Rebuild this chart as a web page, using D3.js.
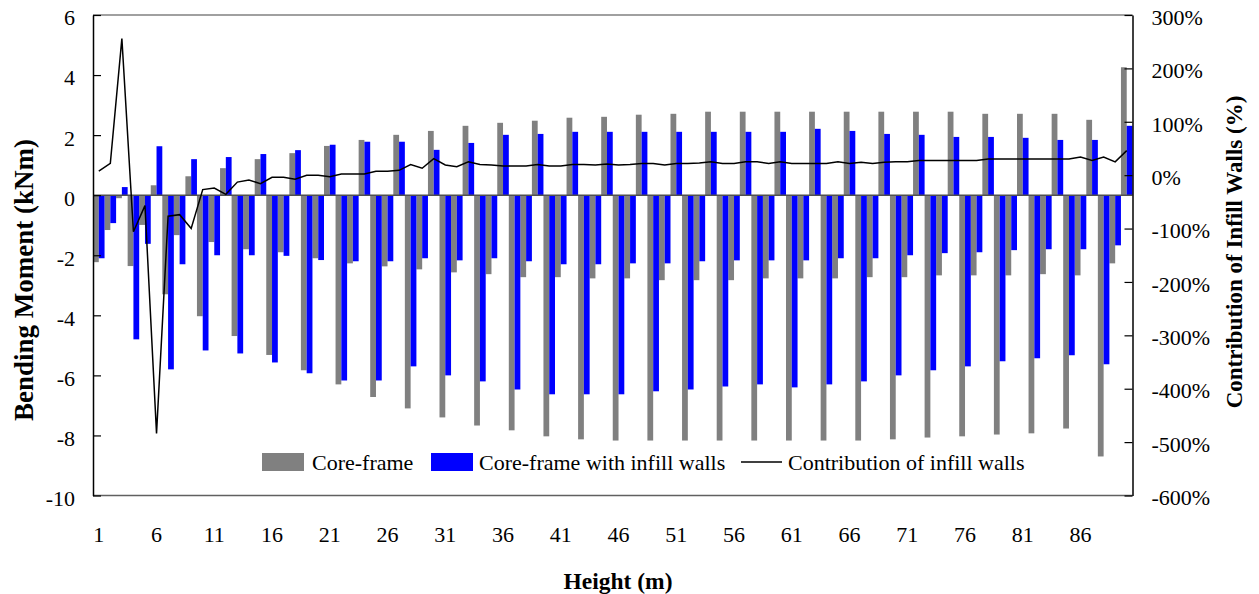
<!DOCTYPE html>
<html>
<head>
<meta charset="utf-8">
<script src="https://cdn.jsdelivr.net/npm/d3@7"></script>
<style>
  html, body { margin: 0; padding: 0; background: #fff; }
  svg text { font-family: "Liberation Serif", "Times New Roman", serif; fill: #000; }
</style>
</head>
<body>
<svg id="chart" width="1259" height="594"></svg>
<script>
// ---------- data ----------
const categories = d3.range(1, 91);
const xTickLabels = ["1","6","11","16","21","26","31","36","41","46","51","56","61","66","71","76","81","86"];
const leftTicks = [-10, -8, -6, -4, -2, 0, 2, 4, 6];
const rightTicks = [-6, -5, -4, -3, -2, -1, 0, 1, 2, 3];

const coreFrame = [
  -2.23, -1.16, -0.10, -2.36, -0.99, 0.33, -3.30, -1.33, 0.63, -4.03,
  -1.56, 0.90, -4.69, -1.80, 1.20, -5.32, -1.90, 1.40, -5.83, -2.10,
  1.64, -6.30, -2.27, 1.84, -6.72, -2.37, 2.01, -7.10, -2.47, 2.14,
  -7.40, -2.57, 2.31, -7.67, -2.63, 2.41, -7.83, -2.73, 2.48, -8.03,
  -2.73, 2.58, -8.13, -2.77, 2.61, -8.17, -2.77, 2.68, -8.17, -2.83,
  2.71, -8.17, -2.83, 2.78, -8.17, -2.83, 2.78, -8.17, -2.77, 2.78,
  -8.17, -2.77, 2.78, -8.17, -2.77, 2.78, -8.17, -2.73, 2.78, -8.13,
  -2.73, 2.78, -8.07, -2.67, 2.78, -8.03, -2.67, 2.71, -7.97, -2.67,
  2.71, -7.93, -2.63, 2.71, -7.77, -2.67, 2.51, -8.70, -2.27, 4.26
];
const coreFrameInfill = [
  -2.10, -0.93, 0.27, -4.80, -1.62, 1.63, -5.80, -2.30, 1.20, -5.17,
  -2.00, 1.27, -5.27, -2.00, 1.37, -5.57, -2.02, 1.50, -5.93, -2.16,
  1.68, -6.17, -2.20, 1.78, -6.17, -2.20, 1.78, -5.70, -2.10, 1.51,
  -6.00, -2.17, 1.74, -6.20, -2.10, 2.01, -6.47, -2.20, 2.04, -6.63,
  -2.30, 2.11, -6.63, -2.30, 2.11, -6.63, -2.27, 2.11, -6.53, -2.27,
  2.11, -6.47, -2.20, 2.11, -6.37, -2.17, 2.11, -6.30, -2.17, 2.11,
  -6.40, -2.17, 2.21, -6.30, -2.10, 2.14, -6.20, -2.10, 2.04, -6.00,
  -2.00, 2.01, -5.83, -1.93, 1.94, -5.70, -1.90, 1.94, -5.53, -1.83,
  1.91, -5.43, -1.80, 1.84, -5.33, -1.80, 1.84, -5.63, -1.67, 2.31
];
// contribution of infill walls, percent
const contribution = [
  7.5, 22, 256, -106, -57, -484, -77, -74, -100, -27,
  -24, -36, -13, -9, -16, -4, -4, -7.5, 0, 0,
  -3, 2, 2, 2, 7.5, 7.5, 9, 20, 13, 31,
  19, 16, 25, 20, 19, 17, 17, 17, 20, 17,
  17, 20, 20, 19, 21, 19, 20, 22, 22, 19,
  22, 22, 23, 25, 22, 22, 25, 25, 22, 25,
  22, 22, 22, 22, 25, 22, 24, 22, 24, 25,
  25, 27.5, 27.5, 27.5, 27.5, 27.5, 27.5, 30.5, 30.5, 30.5,
  30.5, 30.5, 30.5, 30.5, 30.5, 34, 27.5, 34, 25, 46
];
const seriesNames = ["Core-frame", "Core-frame with infill walls", "Contribution of infill walls"];
const seriesColors = ["#808080", "#0000FF", "#000000"];

// ---------- layout ----------
const L = 93, R = 1132.5, T = 15, B = 495.5;
const FONT = "Liberation Serif";
const svg = d3.select("#chart");

const x = d3.scaleBand().domain(categories).range([L, R]).padding(0);
const xs = d3.scaleBand().domain([0, 1]).range([0, x.bandwidth()]).padding(0);
const yL = d3.scaleLinear().domain([-10, 6]).range([B, T]);
const yR = d3.scaleLinear().domain([-6, 3]).range([B, T]);

// plot border (top & bottom)
svg.append("line").attr("x1", L).attr("x2", R).attr("y1", T).attr("y2", T)
  .attr("stroke", "#808080").attr("stroke-width", 1.5);
svg.append("line").attr("x1", L).attr("x2", R).attr("y1", B).attr("y2", B)
  .attr("stroke", "#606060").attr("stroke-width", 1.5);

// bars
const rows = categories.map((c, i) => ({ c, v: [coreFrame[i], coreFrameInfill[i]] }));
const g = svg.append("g");
[0, 1].forEach(s => {
  g.selectAll(null).data(rows).enter().append("rect")
    .attr("x", d => x(d.c) + xs(s))
    .attr("width", xs.bandwidth())
    .attr("y", d => yL(Math.max(0, d.v[s])))
    .attr("height", d => Math.abs(yL(d.v[s]) - yL(0)))
    .attr("fill", seriesColors[s]);
});

// zero (category) axis line
svg.append("line").attr("x1", L).attr("x2", R).attr("y1", yL(0)).attr("y2", yL(0))
  .attr("stroke", "#505050").attr("stroke-width", 1.5);

// contribution line
const line = d3.line()
  .x((d, i) => x(categories[i]) + x.bandwidth() / 2)
  .y(d => yR(d / 100));
svg.append("path").datum(contribution)
  .attr("d", line).attr("fill", "none")
  .attr("stroke", "#000").attr("stroke-width", 1.5).attr("stroke-linejoin", "miter");

// left axis
const axL = svg.append("g").attr("transform", `translate(${L},0)`)
  .call(d3.axisLeft(yL).tickValues(leftTicks).tickFormat(d => String(d))
    .tickSizeInner(-8).tickSizeOuter(0).tickPadding(18));
axL.select(".domain").attr("stroke", "#000").attr("stroke-width", 1.5);
axL.selectAll(".tick line").attr("stroke", "#000").attr("stroke-width", 1.2);
axL.selectAll("text").attr("dy", "0.45em").style("font-size", "22px").style("font-family", FONT);

// right axis
const axR = svg.append("g").attr("transform", `translate(${R},0)`)
  .call(d3.axisRight(yR).tickValues(rightTicks).tickFormat(d => Math.round(d * 100) + "%")
    .tickSizeInner(-8).tickSizeOuter(0).tickPadding(19));
axR.select(".domain").attr("stroke", "#000").attr("stroke-width", 1.5);
axR.selectAll(".tick line").attr("stroke", "#000").attr("stroke-width", 1.2);
axR.selectAll("text").attr("dy", "0.42em").style("font-size", "22px").style("font-family", FONT);

// x tick labels
const axX = svg.append("g").attr("transform", `translate(0,${B})`)
  .call(d3.axisBottom(x).tickValues(xTickLabels.map(Number)).tickSize(0).tickPadding(31));
axX.select(".domain").remove();
axX.selectAll("text").style("font-size", "22px").style("font-family", FONT);

// axis titles
svg.append("text").attr("transform", "translate(33,280) rotate(-90)")
  .attr("text-anchor", "middle").style("font-size", "27px").style("font-weight", "bold")
  .text("Bending Moment (kNm)");
svg.append("text").attr("transform", "translate(1242,252) rotate(-90)")
  .attr("text-anchor", "middle").style("font-size", "23px").style("font-weight", "bold")
  .text("Contribution of Infill Walls (%)");
svg.append("text").attr("x", 618).attr("y", 589)
  .attr("text-anchor", "middle").style("font-size", "23.5px").style("font-weight", "bold")
  .text("Height (m)");

// legend
const lg = svg.append("g").attr("transform", "translate(0,462)");
const legendItems = [
  { x: 262, tx: 312, type: "rect" },
  { x: 431, tx: 479, type: "rect" },
  { x: 741, tx: 788, type: "line" }
];
legendItems.forEach((it, i) => {
  if (it.type === "rect") {
    lg.append("rect").attr("x", it.x).attr("y", -9).attr("width", 42).attr("height", 18)
      .attr("fill", seriesColors[i]);
  } else {
    lg.append("line").attr("x1", it.x).attr("x2", it.x + 41).attr("y1", 0).attr("y2", 0)
      .attr("stroke", seriesColors[i]).attr("stroke-width", 1.5);
  }
  lg.append("text").attr("x", it.tx).attr("y", 7.5).style("font-size", "22px")
    .text(seriesNames[i]);
});
</script>
</body>
</html>
